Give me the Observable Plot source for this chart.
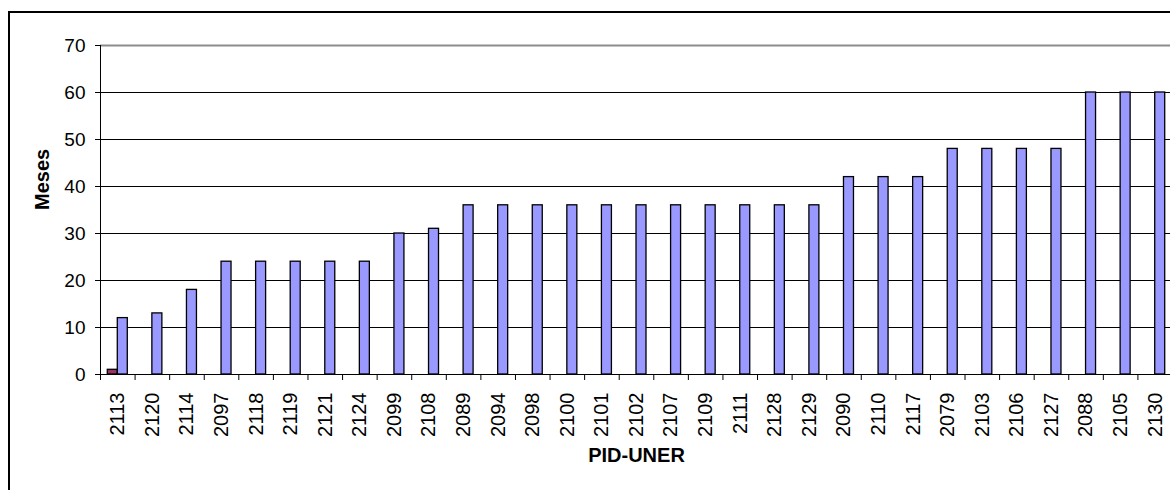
<!DOCTYPE html>
<html><head><meta charset="utf-8">
<script src="https://cdn.jsdelivr.net/npm/d3@7"></script>
<script src="https://cdn.jsdelivr.net/npm/@observablehq/plot@0.6"></script>
<style>
html,body{margin:0;padding:0;background:#fff;overflow:hidden;width:1170px;height:490px}
#frame{position:absolute;left:8px;top:11px;width:1300px;height:600px;border:2px solid #000;box-sizing:border-box}
#chart{position:absolute;left:0;top:0;width:1180px}
#chart svg{max-width:none !important}
</style></head><body>
<div id="frame"></div><div id="chart"></div>
<script>
const categories = ["2113","2120","2114","2097","2118","2119","2121","2124","2099","2108","2089","2094","2098","2100","2101","2102","2107","2109","2111","2128","2129","2090","2110","2117","2079","2103","2106","2127","2088","2105","2130"];
const meses = [12,13,18,24,24,24,24,24,30,31,36,36,36,36,36,36,36,36,36,36,36,42,42,42,48,48,48,48,60,60,60];
const serie2Categories = ["2113"];
const serie2Values = [1];
const yTicks = [0,10,20,30,40,50,60,70];
const gridTicks = [10,20,30,40,50,60];

const W = 1180, mL = 100, mR = 8;
const bw = (W - mL - mR) / categories.length;
const barW = 10;

const blue = categories.map((c, i) => ({cat: c, value: meses[i]}));
const red = serie2Categories.map((c, i) => ({cat: c, value: serie2Values[i]}));

const chart = Plot.plot({
  width: W, height: 490,
  marginLeft: mL, marginRight: mR, marginTop: 45, marginBottom: 116,
  style: {fontFamily: "'Liberation Sans', Arial, sans-serif", fontSize: "19px", background: "transparent", color: "#000", maxWidth: "none"},
  x: {domain: categories, padding: 0, round: false, label: null},
  y: {domain: [0, 70], label: null},
  marks: [
    Plot.gridY(gridTicks, {stroke: "#000", strokeOpacity: 1, strokeWidth: 1}),
    Plot.ruleY([70], {stroke: "#8c8c8c", strokeWidth: 2}),
    Plot.barY(red, {x: "cat", y: "value", fill: "#993366", stroke: "#000", strokeWidth: 1.3, insetLeft: bw/2 - barW, insetRight: bw/2}),
    Plot.barY(blue, {x: "cat", y: "value", fill: "#9999ff", stroke: "#000", strokeWidth: 1.3, insetLeft: bw/2, insetRight: bw/2 - barW}),
    Plot.ruleY([0], {stroke: "#000"}),
    Plot.frame({anchor: "left", stroke: "#000"}),
    Plot.axisY({ticks: yTicks, tickSize: 5, tickPadding: 10, label: null, stroke: "#000", fontSize: 19}),
    Plot.axisX({tickSize: 6, tickFormat: () => "", dx: -bw/2, label: null, stroke: "#000"}),
    Plot.axisX({tickSize: 0, tickRotate: -90, tickPadding: 18, label: null, fontSize: 20}),
    Plot.text(["PID-UNER"], {frameAnchor: "bottom", dy: 87, fontWeight: "bold", fontSize: 20}),
    Plot.text(["Meses"], {frameAnchor: "left", dx: -58, rotate: -90, fontWeight: "bold", fontSize: 20})
  ]
});
document.getElementById("chart").appendChild(chart);
</script>
</body></html>
